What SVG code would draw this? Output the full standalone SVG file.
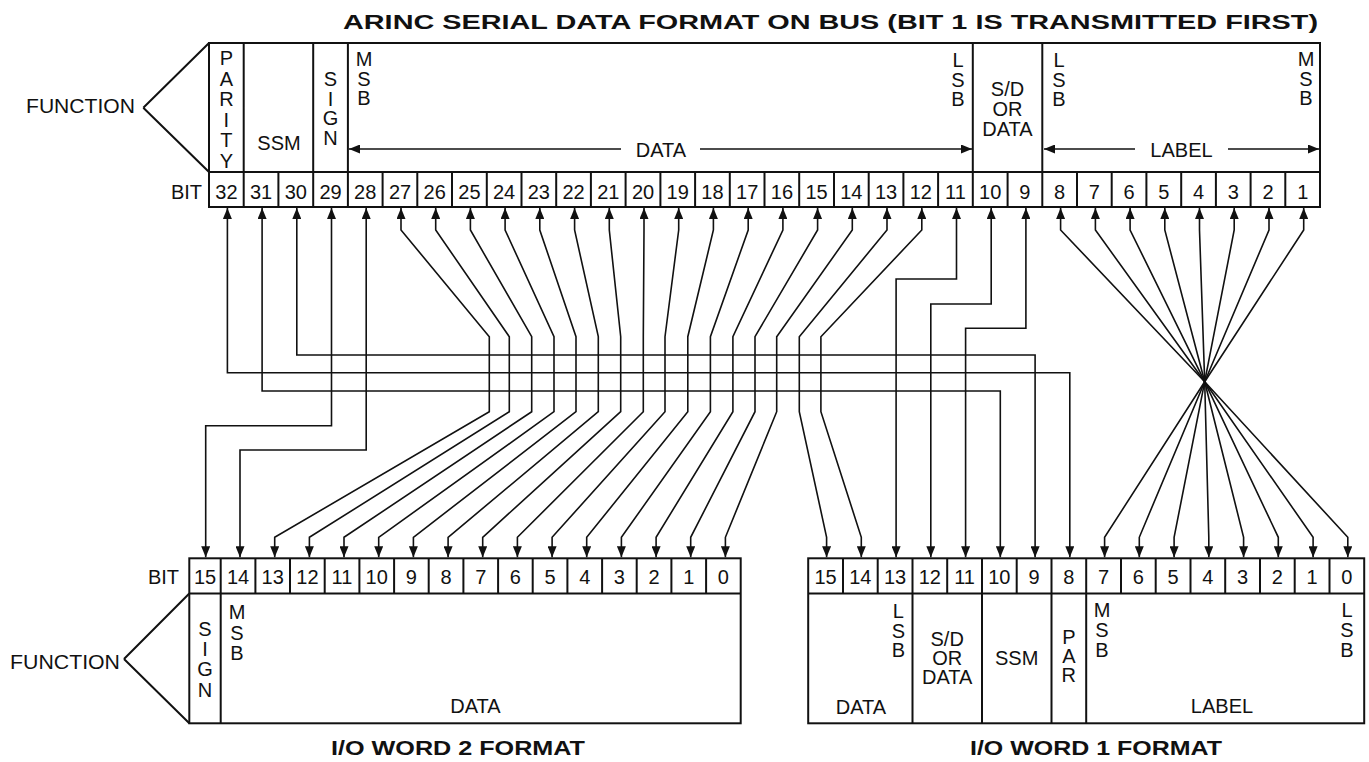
<svg xmlns="http://www.w3.org/2000/svg" width="1369" height="762" viewBox="0 0 1369 762">
<style>
text{font-family:"Liberation Sans",Arial,sans-serif;fill:#111;font-size:20px}
.m{text-anchor:middle}
.e{text-anchor:end}
.b{font-weight:bold}
.box{fill:none;stroke:#111;stroke-width:2}
.conn{fill:none;stroke:#111;stroke-width:1.6;marker-start:url(#ah);marker-end:url(#ah)}
</style>
<defs>
<marker id="ah" viewBox="0 0 11 9" refX="11" refY="4.5" markerWidth="11" markerHeight="9" markerUnits="userSpaceOnUse" orient="auto-start-reverse"><path d="M0,0 L11,4.5 L0,9 z" fill="#111"/></marker>
</defs>
<rect width="1369" height="762" fill="#fff"/>

<g id="title"><text class="b" x="343" y="29" font-size="24" textLength="975" lengthAdjust="spacingAndGlyphs">ARINC SERIAL DATA FORMAT ON BUS (BIT 1 IS TRANSMITTED FIRST)</text></g>

<g id="arinc-word">
<rect class="box" x="209" y="43" width="1111" height="164"/>
<path class="box" d="M209,172 H1320 M143.3,107.7 L209,43 M143.3,107.7 L209,172 M243.7,43 V172 M313.2,43 V172 M347.9,43 V172 M972.8,43 V172 M1042.3,43 V172"/>
<path class="box" d="M243.7,172V207M278.4,172V207M313.2,172V207M347.9,172V207M382.6,172V207M417.3,172V207M452,172V207M486.8,172V207M521.5,172V207M556.2,172V207M590.9,172V207M625.6,172V207M660.4,172V207M695.1,172V207M729.8,172V207M764.5,172V207M799.2,172V207M834,172V207M868.7,172V207M903.4,172V207M938.1,172V207M972.8,172V207M1007.6,172V207M1042.3,172V207M1077,172V207M1111.7,172V207M1146.4,172V207M1181.2,172V207M1215.9,172V207M1250.6,172V207M1285.3,172V207"/>
<text x="26" y="113.3" font-size="21" textLength="109" lengthAdjust="spacingAndGlyphs">FUNCTION</text>
<text class="e" x="202" y="199">BIT</text>
<text class="m" x="226.4" y="65">P<tspan x="226.4" dy="20.6">A</tspan><tspan x="226.4" dy="20.6">R</tspan><tspan x="226.4" dy="20.6">I</tspan><tspan x="226.4" dy="20.6">T</tspan><tspan x="226.4" dy="20.6">Y</tspan></text>
<text class="m" x="279" y="150">SSM</text>
<text class="m" x="330.5" y="86">S<tspan x="330.5" dy="19.7">I</tspan><tspan x="330.5" dy="19.7">G</tspan><tspan x="330.5" dy="19.7">N</tspan></text>
<text class="m" x="364" y="66">M<tspan x="364" dy="19.5">S</tspan><tspan x="364" dy="19.5">B</tspan></text>
<text class="m" x="958" y="67">L<tspan x="958" dy="19.5">S</tspan><tspan x="958" dy="19.5">B</tspan></text>
<text class="m" x="1007.5" y="96">S/D<tspan x="1007.5" dy="20">OR</tspan><tspan x="1007.5" dy="20">DATA</tspan></text>
<text class="m" x="1059" y="67">L<tspan x="1059" dy="19.5">S</tspan><tspan x="1059" dy="19.5">B</tspan></text>
<text class="m" x="1306" y="66">M<tspan x="1306" dy="19.5">S</tspan><tspan x="1306" dy="19.5">B</tspan></text>
<path class="conn" style="marker-end:none" d="M349,149 H621"/>
<path class="conn" style="marker-start:none" d="M700,149 H972"/>
<text class="m" x="661" y="156.5" font-size="26">DATA</text>
<path class="conn" style="marker-end:none" d="M1044,149 H1135"/>
<path class="conn" style="marker-start:none" d="M1228,149 H1319"/>
<text class="m" x="1181.5" y="156.7" font-size="26">LABEL</text>
<g id="arinc-bits">
<text class="m" x="226.4" y="198.5">32</text><text class="m" x="261.1" y="198.5">31</text><text class="m" x="295.8" y="198.5">30</text><text class="m" x="330.5" y="198.5">29</text><text class="m" x="365.2" y="198.5">28</text><text class="m" x="400" y="198.5">27</text><text class="m" x="434.7" y="198.5">26</text><text class="m" x="469.4" y="198.5">25</text><text class="m" x="504.1" y="198.5">24</text><text class="m" x="538.8" y="198.5">23</text><text class="m" x="573.6" y="198.5">22</text><text class="m" x="608.3" y="198.5">21</text><text class="m" x="643" y="198.5">20</text><text class="m" x="677.7" y="198.5">19</text><text class="m" x="712.4" y="198.5">18</text><text class="m" x="747.2" y="198.5">17</text><text class="m" x="781.9" y="198.5">16</text><text class="m" x="816.6" y="198.5">15</text><text class="m" x="851.3" y="198.5">14</text><text class="m" x="886" y="198.5">13</text><text class="m" x="920.8" y="198.5">12</text><text class="m" x="955.5" y="198.5">11</text><text class="m" x="990.2" y="198.5">10</text><text class="m" x="1024.9" y="198.5">9</text><text class="m" x="1059.6" y="198.5">8</text><text class="m" x="1094.4" y="198.5">7</text><text class="m" x="1129.1" y="198.5">6</text><text class="m" x="1163.8" y="198.5">5</text><text class="m" x="1198.5" y="198.5">4</text><text class="m" x="1233.2" y="198.5">3</text><text class="m" x="1268" y="198.5">2</text><text class="m" x="1302.7" y="198.5">1</text>
</g>
</g>

<g id="io-word-2">
<rect class="box" x="189.3" y="558.3" width="551.4" height="165"/>
<path class="box" d="M189.3,593.5 H740.7 M124,659 L189.3,593.5 M124,659 L189.3,723.3 M220.7,593.5 V723.3"/>
<path class="box" d="M220.7,558.3V593.5M255.4,558.3V593.5M290,558.3V593.5M324.7,558.3V593.5M359.4,558.3V593.5M394.1,558.3V593.5M428.7,558.3V593.5M463.4,558.3V593.5M498.1,558.3V593.5M532.7,558.3V593.5M567.4,558.3V593.5M602.1,558.3V593.5M636.7,558.3V593.5M671.4,558.3V593.5M706.1,558.3V593.5"/>
<text x="10" y="669.3" font-size="21" textLength="110" lengthAdjust="spacingAndGlyphs">FUNCTION</text>
<text class="e" x="179" y="584">BIT</text>
<text class="m" x="205" y="583.5">15</text><text class="m" x="238" y="583.5">14</text><text class="m" x="272.7" y="583.5">13</text><text class="m" x="307.4" y="583.5">12</text><text class="m" x="342" y="583.5">11</text><text class="m" x="376.7" y="583.5">10</text><text class="m" x="411.4" y="583.5">9</text><text class="m" x="446.1" y="583.5">8</text><text class="m" x="480.7" y="583.5">7</text><text class="m" x="515.4" y="583.5">6</text><text class="m" x="550.1" y="583.5">5</text><text class="m" x="584.7" y="583.5">4</text><text class="m" x="619.4" y="583.5">3</text><text class="m" x="654.1" y="583.5">2</text><text class="m" x="688.7" y="583.5">1</text><text class="m" x="723.4" y="583.5">0</text>
<text class="m" x="205" y="636">S<tspan x="205" dy="20.2">I</tspan><tspan x="205" dy="20.2">G</tspan><tspan x="205" dy="20.2">N</tspan></text>
<text class="m" x="237" y="619.3">M<tspan x="237" dy="20.2">S</tspan><tspan x="237" dy="20.2">B</tspan></text>
<text class="m" x="475.5" y="713" font-size="24">DATA</text>
</g>

<g id="io-word-1">
<rect class="box" x="808.2" y="558.3" width="556" height="165"/>
<path class="box" d="M808.2,593.5 H1364.2 M912.5,593.5 V723.3 M982,593.5 V723.3 M1051.5,593.5 V723.3 M1086.2,593.5 V723.3"/>
<path class="box" d="M843,558.3V593.5M877.7,558.3V593.5M912.5,558.3V593.5M947.2,558.3V593.5M982,558.3V593.5M1016.7,558.3V593.5M1051.5,558.3V593.5M1086.2,558.3V593.5M1121,558.3V593.5M1155.7,558.3V593.5M1190.5,558.3V593.5M1225.2,558.3V593.5M1260,558.3V593.5M1294.7,558.3V593.5M1329.5,558.3V593.5"/>
<text class="m" x="825.6" y="583.5">15</text><text class="m" x="860.3" y="583.5">14</text><text class="m" x="895.1" y="583.5">13</text><text class="m" x="929.8" y="583.5">12</text><text class="m" x="964.6" y="583.5">11</text><text class="m" x="999.3" y="583.5">10</text><text class="m" x="1034.1" y="583.5">9</text><text class="m" x="1068.8" y="583.5">8</text><text class="m" x="1103.6" y="583.5">7</text><text class="m" x="1138.3" y="583.5">6</text><text class="m" x="1173.1" y="583.5">5</text><text class="m" x="1207.8" y="583.5">4</text><text class="m" x="1242.6" y="583.5">3</text><text class="m" x="1277.3" y="583.5">2</text><text class="m" x="1312.1" y="583.5">1</text><text class="m" x="1346.8" y="583.5">0</text>
<text class="m" x="898.3" y="618">L<tspan x="898.3" dy="19.5">S</tspan><tspan x="898.3" dy="19.5">B</tspan></text>
<text class="m" x="947.2" y="646">S/D<tspan x="947.2" dy="19">OR</tspan><tspan x="947.2" dy="19">DATA</tspan></text>
<text class="m" x="1016.7" y="665">SSM</text>
<text class="m" x="1068.8" y="643.5">P<tspan x="1068.8" dy="19">A</tspan><tspan x="1068.8" dy="19">R</tspan></text>
<text class="m" x="1102" y="617">M<tspan x="1102" dy="19.8">S</tspan><tspan x="1102" dy="19.8">B</tspan></text>
<text class="m" x="1347" y="617">L<tspan x="1347" dy="19.8">S</tspan><tspan x="1347" dy="19.8">B</tspan></text>
<text class="m" x="861" y="714" font-size="21">DATA</text>
<text class="m" x="1222" y="713.3" font-size="21">LABEL</text>
</g>

<g id="captions">
<text class="b" x="331" y="755" font-size="23" textLength="254" lengthAdjust="spacingAndGlyphs">I/O WORD 2 FORMAT</text>
<text class="b" x="970" y="755" font-size="23" textLength="252" lengthAdjust="spacingAndGlyphs">I/O WORD 1 FORMAT</text>
</g>

<g id="connectors">
<path class="conn" d="M227.4,208 V372.7 H1069.8 V557.3"/>
<path class="conn" d="M262.1,208 V391 H1000.3 V557.3"/>
<path class="conn" d="M296.8,208 V355 H1035.1 V557.3"/>
<path class="conn" d="M331.5,208 V425.7 H205.7 V557.3"/>
<path class="conn" d="M366.2,208 V450 H240 V557.3"/>
<path class="conn" d="M401,208 V230 L489.3,336.7 V411.7 L274.7,537.3 V557.3"/>
<path class="conn" d="M435.7,208 V230 L509.3,336.7 V411.7 L309.4,537.3 V557.3"/>
<path class="conn" d="M470.4,208 V230 L531.7,336.7 V411.7 L344,537.3 V557.3"/>
<path class="conn" d="M505.1,208 V230 L554,336.7 V411.7 L378.7,537.3 V557.3"/>
<path class="conn" d="M539.8,208 V230 L576,336.7 V411.7 L413.4,537.3 V557.3"/>
<path class="conn" d="M574.6,208 V230 L598.3,336.7 V411.7 L448.1,537.3 V557.3"/>
<path class="conn" d="M609.3,208 V230 L620.7,336.7 V411.7 L482.7,537.3 V557.3"/>
<path class="conn" d="M644,208 V230 L643.3,336.7 V411.7 L517.4,537.3 V557.3"/>
<path class="conn" d="M678.7,208 V230 L665,336.7 V411.7 L552.1,537.3 V557.3"/>
<path class="conn" d="M713.4,208 V230 L687.8,336.7 V411.7 L586.7,537.3 V557.3"/>
<path class="conn" d="M748.2,208 V230 L710.4,336.7 V411.7 L621.4,537.3 V557.3"/>
<path class="conn" d="M782.9,208 V230 L732.9,336.7 V411.7 L656.1,537.3 V557.3"/>
<path class="conn" d="M817.6,208 V230 L755,336.7 V411.7 L690.7,537.3 V557.3"/>
<path class="conn" d="M852.3,208 V230 L776.7,336.7 V411.7 L725.4,537.3 V557.3"/>
<path class="conn" d="M887,208 V230 L799.3,336.7 V411.7 L826.6,537.3 V557.3"/>
<path class="conn" d="M921.8,208 V230 L820.9,336.7 V411.7 L861.3,537.3 V557.3"/>
<path class="conn" d="M956.5,208 V279 H896.1 V557.3"/>
<path class="conn" d="M991.2,208 V304 H930.8 V557.3"/>
<path class="conn" d="M1025.9,208 V328.3 H965.6 V557.3"/>
<path class="conn" d="M1060.6,208 V230 L1204.7,381.7 L1347.8,537.3 V557.3"/>
<path class="conn" d="M1095.4,208 V230 L1204.7,381.7 L1313.1,537.3 V557.3"/>
<path class="conn" d="M1130.1,208 V230 L1204.7,381.7 L1278.3,537.3 V557.3"/>
<path class="conn" d="M1164.8,208 V230 L1204.7,381.7 L1243.6,537.3 V557.3"/>
<path class="conn" d="M1199.5,208 V230 L1204.7,381.7 L1208.8,537.3 V557.3"/>
<path class="conn" d="M1234.2,208 V230 L1204.7,381.7 L1174.1,537.3 V557.3"/>
<path class="conn" d="M1269,208 V230 L1204.7,381.7 L1139.3,537.3 V557.3"/>
<path class="conn" d="M1303.7,208 V230 L1204.7,381.7 L1104.6,537.3 V557.3"/>
</g>
</svg>
